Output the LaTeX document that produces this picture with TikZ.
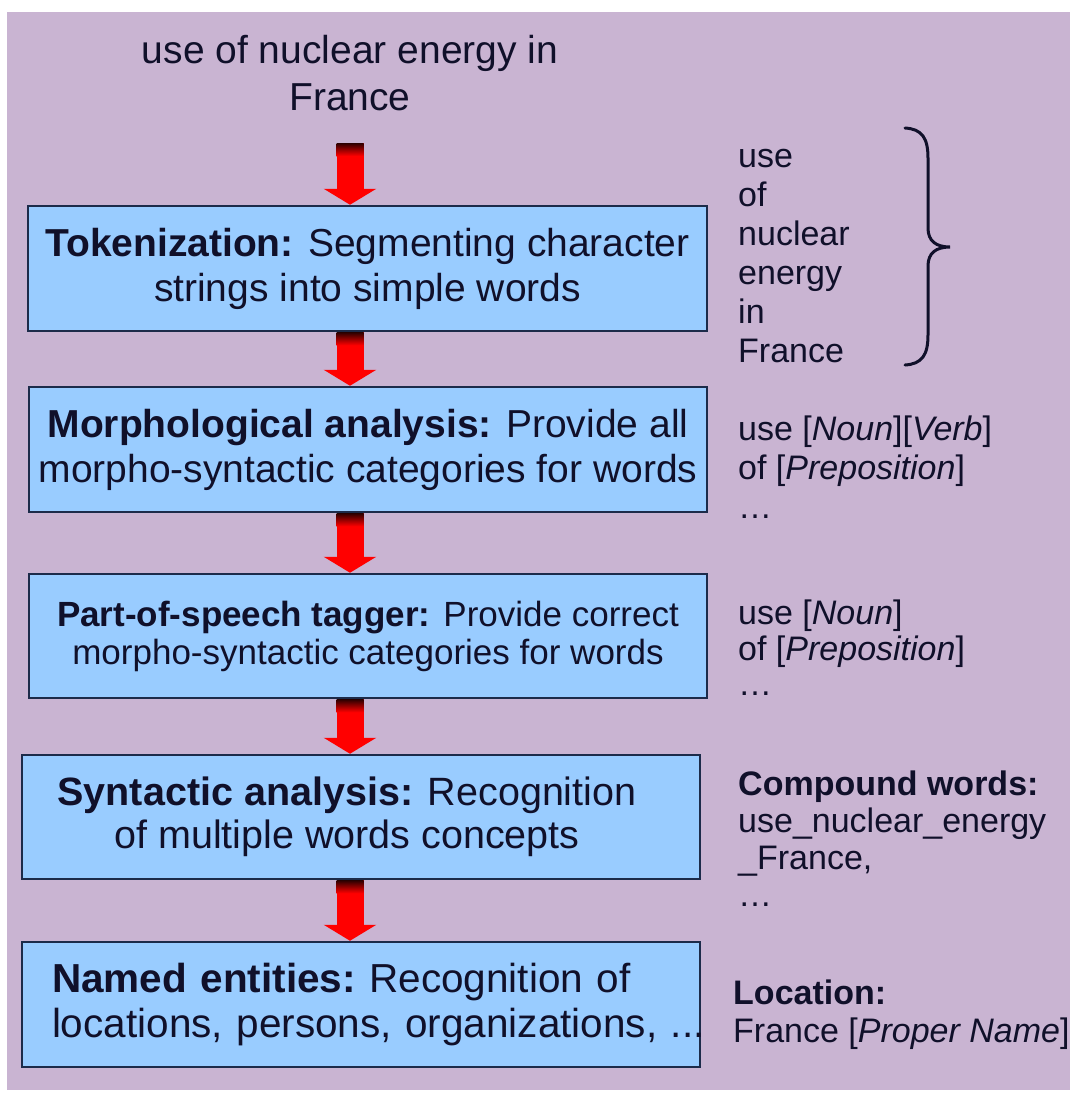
\documentclass[tikz,border=0pt]{standalone}
\usepackage{fontspec}
\setmainfont{Liberation Sans}
\usetikzlibrary{arrows.meta,calc}
\definecolor{lilac}{HTML}{C9B4D2}
\definecolor{boxfill}{HTML}{99CCFF}
\definecolor{boxline}{HTML}{1C2B4A}
\definecolor{ink}{HTML}{10102A}
\definecolor{arrowred}{HTML}{FF0000}
\definecolor{arrowdark}{HTML}{2A0000}
\tikzset{
  stagebox/.style={draw=boxline, line width=2.5pt, fill=boxfill, minimum width=678pt,
    minimum height=124pt, inner sep=0pt, text=ink, align=center,
    font=\fontsize{39}{45}\selectfont},
  srctext/.style={inner sep=0pt, text=ink, align=center, font=\fontsize{39}{47}\selectfont},
  rtext/.style={anchor=north west, inner sep=0pt, align=left, text=ink},
  bigarrow/.style={draw=arrowred, line width=27pt, -{Triangle[width=52pt,length=16pt]}},
  arrowtop/.style={top color=arrowdark, bottom color=arrowred},
  bracestyle/.style={draw=ink, line width=3pt, line cap=round}
}
\begin{document}
\begin{tikzpicture}[x=1pt,y=-1pt]
\useasboundingbox (0,0) rectangle (1070,1093);
\fill[white] (0,0) rectangle (1070,1093);
\fill[lilac] (7,12) rectangle (1070,1090);

% source text
\node[srctext] (src) at (350,73) {use of nuclear energy in\\France};

% stage boxes
\node[stagebox, minimum width=679pt, minimum height=125pt] (box1) at (367.5,268.5)
  {\textbf{Tokenization:} Segmenting character\\strings into simple words};
\node[stagebox, minimum height=125pt] (box2) at (368,449.5)
  {\textbf{Morphological analysis:} Provide all\\morpho-syntactic categories for words};
\node[stagebox, font=\fontsize{35}{38}\selectfont] (box3) at (368,636)
  {\textbf{Part-of-speech tagger:} Provide correct\\morpho-syntactic categories for words};
\node[stagebox, font=\fontsize{39.5}{43}\selectfont] (box4) at (361,817)
  {\textbf{Syntactic analysis:} Recognition\hspace*{28pt}\\of multiple words concepts\hspace*{28pt}};
\node[stagebox, minimum height=125pt, align=left, text width=618pt, inner xsep=30pt,
  font=\fontsize{40.5}{45}\selectfont] (box5) at (361,1004.5)
  {\textbf{Named entities:}~Recognition of\\\mbox{locations, persons, organizations, ...}};

% arrows
\coordinate (ax) at (350,0);
\coordinate (a0) at (350,143);
\draw[bigarrow] (a0) -- (a0 |- box1.north);
\shade[arrowtop] ($(a0)+(-13.5,0)$) rectangle ($(a0)+(13.5,13)$);
\foreach \a/\b in {box1/box2, box2/box3, box3/box4, box4/box5}{
  \draw[bigarrow] (ax |- \a.south) -- (ax |- \b.north);
  \shade[arrowtop] ($(ax |- \a.south)+(-13.5,0)$) rectangle ($(ax |- \a.south)+(13.5,13)$);
}

% right column texts
\node[rtext, font=\fontsize{34}{39}\selectfont] (col1) at (738,140)
  {\strut use\\of\\nuclear\\energy\\in\\France};
\node[rtext, font=\fontsize{34}{39}\selectfont] (col2) at (738,413)
  {\strut use [\textit{Noun}][\textit{Verb}]\\of [\textit{Preposition}]\\…};
\node[rtext, font=\fontsize{34}{35}\selectfont] (col3) at (738,600)
  {\strut use [\textit{Noun}]\\of [\textit{Preposition}]\\…};
\node[rtext, font=\fontsize{34}{37}\selectfont] (col4) at (738,769)
  {\strut\textbf{Compound words:}\\use\_nuclear\_energy\\\_France,\\…};
\node[rtext, font=\fontsize{34}{38}\selectfont] (col5) at (733,978)
  {\strut\textbf{Location:}\\France [\textit{Proper Name}]};

% brace
\draw[bracestyle] (905,128) .. controls (922,129) and (928,138) .. (928,158)
  -- (928,228) .. controls (928,241) and (936,247) .. (950,247)
  .. controls (936,247) and (928,253) .. (928,266)
  -- (928,335) .. controls (928,355) and (922,364) .. (905,365);
\end{tikzpicture}
\end{document}
